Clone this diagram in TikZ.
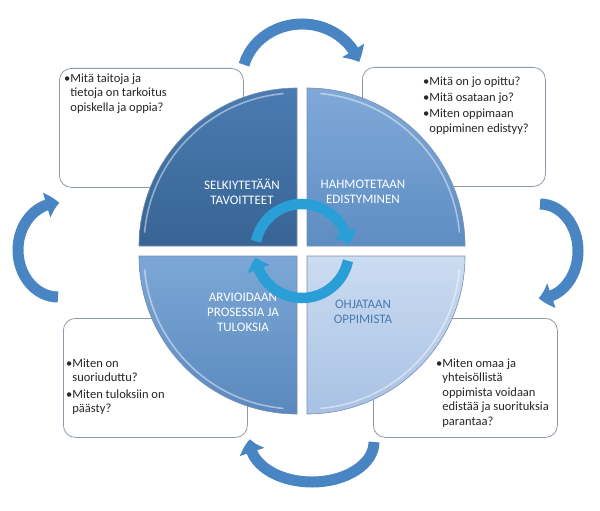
\documentclass[tikz,border=0pt]{standalone}
\usepackage{fontspec}
\setmainfont{Carlito}
\usetikzlibrary{arrows.meta,bending}
\definecolor{boxline}{HTML}{8E9BAA}
\definecolor{ulTop}{HTML}{4A7BB1}
\definecolor{ulBot}{HTML}{386494}
\definecolor{urTop}{HTML}{80A9D8}
\definecolor{urBot}{HTML}{5E8DC3}
\definecolor{llTop}{HTML}{7CA7D6}
\definecolor{llBot}{HTML}{5B89BE}
\definecolor{lrTop}{HTML}{CCDCF1}
\definecolor{lrBot}{HTML}{A8C1E4}
\definecolor{qedge}{HTML}{7890AE}
\definecolor{bigarrow}{HTML}{4A85C3}
\definecolor{cycarrow}{HTML}{2A9ED6}
\definecolor{lrtext}{HTML}{4A7AB2}
\begin{document}
\begin{tikzpicture}[x=1pt,y=-1pt,
  qbox/.style={draw=boxline, line width=0.8pt, rounded corners=12pt, fill=white, inner sep=0pt, anchor=north west},
  qtext/.style={inner sep=0pt, anchor=north west, font=\fontsize{12.5}{14.5}\selectfont, text=black!85},
  quad/.style={draw=qedge, line width=0.6pt},
  qlabel/.style={inner sep=0pt, align=center, font=\fontsize{13}{15}\selectfont, text=white},
  curvedarrow/.style={draw=bigarrow, line width=11pt, -{Triangle[width=25pt,length=13pt,bend]}},
  cyclearrow/.style={draw=cycarrow, line width=10.5pt, -{Triangle[width=23pt,length=12pt,bend]}},
  bevel/.style={draw=white, opacity=0.45, line width=1.6pt}
]
\useasboundingbox (0,0) rectangle (600,511);

% question boxes
\node[qbox, minimum width=184pt, minimum height=119pt] (tlbox) at (59,68) {};
\node[qbox, minimum width=183pt, minimum height=119pt] (trbox) at (362,67) {};
\node[qbox, minimum width=184pt, minimum height=119pt] (blbox) at (63,318) {};
\node[qbox, minimum width=184pt, minimum height=119pt] (brbox) at (373,318) {};

\node[qtext] (tltext) at (64,72) {\begin{tabular}{@{}l@{}l@{}}•&Mitä taitoja ja\\ &tietoja on tarkoitus\\ &opiskella ja oppia?\end{tabular}};
\node[qtext] (trtext) at (423,75.5) {\begin{tabular}{@{}l@{}l@{}}•&Mitä on jo opittu?\\[1.5pt] •&Mitä osataan jo?\\[1.5pt] •&Miten oppimaan\\ &oppiminen edistyy?\end{tabular}};
\node[qtext] (bltext) at (66,357) {\begin{tabular}{@{}l@{}l@{}}•&Miten on\\ &suoriuduttu?\\[2pt] •&Miten tuloksiin on\\ &päästy?\end{tabular}};
\node[qtext] (brtext) at (436,357) {\begin{tabular}{@{}l@{}l@{}}•&Miten omaa ja\\ &yhteisöllistä\\ &oppimista voidaan\\ &edistää ja suorituksia\\ &parantaa?\end{tabular}};

% quadrants
\path[quad, top color=ulTop, bottom color=ulBot] (297,246) -- (139,246) arc[start angle=180,end angle=270,radius=158] -- cycle;
\path[quad, top color=urTop, bottom color=urBot] (307,246) -- (307,88) arc[start angle=270,end angle=360,radius=158] -- cycle;
\path[quad, top color=lrTop, bottom color=lrBot] (307,256) -- (465,256) arc[start angle=0,end angle=90,radius=158] -- cycle;
\path[quad, top color=llTop, bottom color=llBot] (297,256) -- (297,414) arc[start angle=90,end angle=180,radius=158] -- cycle;
% bevel highlights
\draw[bevel] (297,246) ++(185:153) arc[start angle=185,end angle=265,radius=153];
\draw[bevel] (307,246) ++(275:153) arc[start angle=275,end angle=355,radius=153];
\draw[bevel] (307,256) ++(5:153) arc[start angle=5,end angle=85,radius=153];
\draw[bevel] (297,256) ++(95:153) arc[start angle=95,end angle=175,radius=153];

\node[qlabel] (ul) at (242,192) {SELKIYTETÄÄN\\TAVOITTEET};
\node[qlabel] (ur) at (363,192) {HAHMOTETAAN\\EDISTYMINEN};
\node[qlabel] (ll) at (243,312) {ARVIOIDAAN\\PROSESSIA JA\\TULOKSIA};
\node[qlabel, text=lrtext] (lr) at (363,312) {OHJATAAN\\OPPIMISTA};

% central cycle arrows
\coordinate (cyc) at (302,251);
\draw[cyclearrow] (cyc) ++(192:47) arc[start angle=192,end angle=352,radius=47];
\draw[cyclearrow] (cyc) ++(12:47) arc[start angle=12,end angle=172,radius=47];

% outer curved arrows
\coordinate (topc) at (302,79);
\draw[curvedarrow] (topc) ++(195:60 and 55) arc[start angle=195,end angle=342,x radius=60,y radius=55];
\coordinate (rightc) at (540,251);
\draw[curvedarrow] (rightc) ++(270:38 and 47) arc[start angle=270,end angle=452,x radius=38,y radius=47];
\coordinate (botc) at (312,442);
\draw[curvedarrow] (botc) ++(0:62 and 40) arc[start angle=0,end angle=184,x radius=62,y radius=40];
\coordinate (leftc) at (58,250);
\draw[curvedarrow] (leftc) ++(90:40 and 47) arc[start angle=90,end angle=272,x radius=40,y radius=47];
\end{tikzpicture}
\end{document}
